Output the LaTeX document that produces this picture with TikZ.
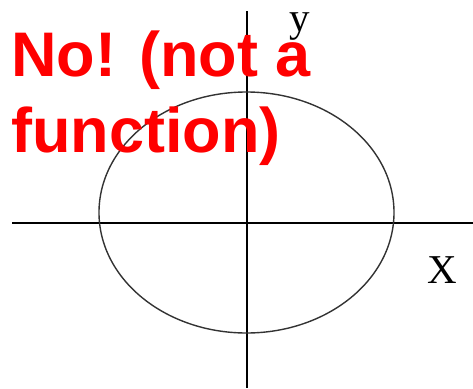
\documentclass[tikz,border=0pt]{standalone}
\usepackage{fontspec}
\setmainfont{Liberation Serif}
\newfontfamily\headfont{Liberation Sans}
\usetikzlibrary{positioning}

\begin{document}
\begin{tikzpicture}[x=1pt, y=-1pt,
    axis/.style={line width=1.3pt, black},
    curve/.style={line width=1.4pt, black!80},
    lbl/.style={font=\fontsize{41}{41}\selectfont, anchor=base, inner sep=0pt},
    msg/.style={red, font=\headfont\bfseries\fontsize{63}{76}\selectfont, anchor=base west, inner sep=0pt}]
            \useasboundingbox (0,0) rectangle (473,388);
            \coordinate (xl) at (12,223);
            \coordinate (xr) at (473,223);
            \coordinate (yt) at (247,11);
            \coordinate (yb) at (247,388);
            \draw[axis] (xl) -- (xr);
            \draw[axis] (yt) -- (yb);
            \draw[curve] (246.5,212.5) ellipse [x radius=147.5, y radius=120.5];
            \node[lbl] (ylab) at (299.5,31) {y};
            \node[lbl] (xlab) at (442,283) {X};
            \node[msg] (msgtop) at (11,76) {No! (not a};
            \node[msg] (msgbot) at (11,152) {function)};
        \end{tikzpicture}
\end{document}
